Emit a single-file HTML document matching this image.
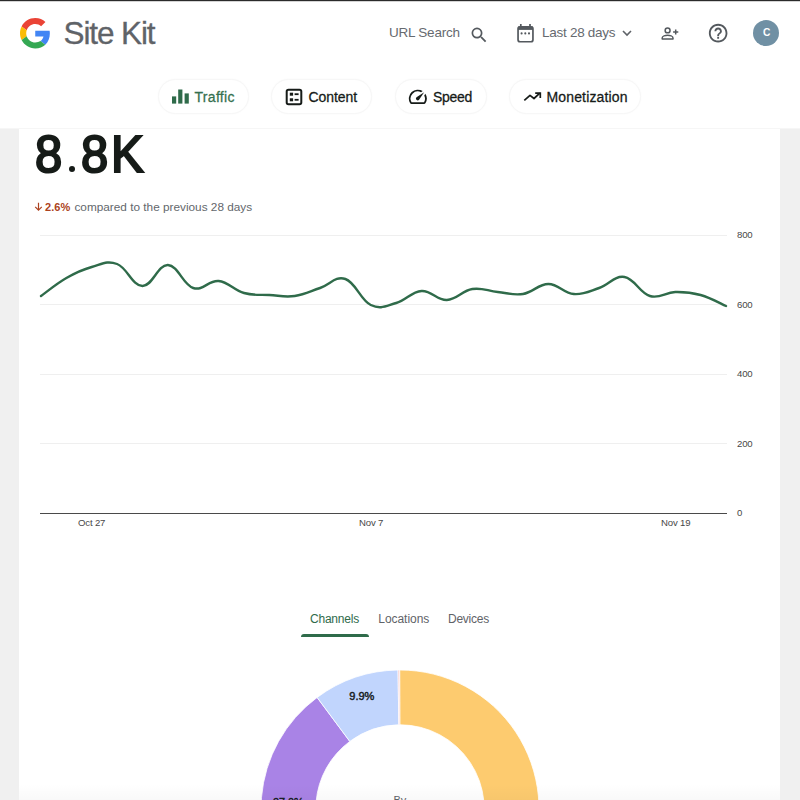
<!DOCTYPE html>
<html><head><meta charset="utf-8">
<style>
*{box-sizing:border-box;margin:0;padding:0}
html,body{width:800px;height:800px;overflow:hidden;background:#f0f0f0;font-family:"Liberation Sans",sans-serif;}
body{position:relative}
.abs{position:absolute;white-space:nowrap;line-height:1}
#topbar{position:absolute;left:0;top:0;width:800px;height:2px;background:linear-gradient(#2b2b2b 0,#2b2b2b 50%,#d4d4d4 50%,#d4d4d4 100%)}
#header{position:absolute;left:0;top:0;width:800px;height:129px;background:#fff;border-bottom:1px solid #f6f6f6}
#card{position:absolute;left:19px;top:129px;width:761px;height:700px;background:#fff}
.pill{position:absolute;top:79px;height:35px;border-radius:18px;background:#fff;border:1px solid #f7f7f7;box-shadow:0 0 2px rgba(0,0,0,0.03)}
.ptxt{position:absolute;white-space:nowrap;line-height:1;font-size:14px;color:#161b18;top:90px;-webkit-text-stroke:0.27px currentColor}
.big{top:128.5px;font-size:51.5px;color:#161b18;-webkit-text-stroke:2.2px #161b18;transform-origin:0 0;transform:scaleX(0.95)}
.hl{position:absolute;left:40px;width:687px;height:1px;background:#efefef}
.yl{position:absolute;left:737px;font-size:9.6px;letter-spacing:-0.2px;margin-top:-0.3px;color:#484848;line-height:1;white-space:nowrap}
.xl{position:absolute;top:517.6px;font-size:9.6px;letter-spacing:-0.17px;color:#484848;line-height:1;white-space:nowrap}
.tab{position:absolute;top:613px;font-size:12px;color:#5f6368;line-height:1;white-space:nowrap}
</style></head><body>
<div id="header"></div>
<div id="topbar"></div>
<div id="card"></div>

<!-- Google G -->
<svg class="abs" style="left:19.5px;top:18px" width="30.5" height="30.5" viewBox="0 0 48 48">
<path fill="#EA4335" d="M24 9.5c3.54 0 6.71 1.22 9.21 3.6l6.85-6.85C35.9 2.38 30.47 0 24 0 14.62 0 6.51 5.38 2.56 13.22l7.98 6.19C12.43 13.72 17.74 9.5 24 9.5z"/>
<path fill="#4285F4" d="M46.98 24.55c0-1.57-.15-3.09-.38-4.55H24v9.02h12.94c-.58 2.96-2.26 5.48-4.78 7.18l7.73 6c4.51-4.18 7.09-10.36 7.09-17.65z"/>
<path fill="#FBBC05" d="M10.53 28.59c-.48-1.45-.76-2.99-.76-4.59s.27-3.14.76-4.59l-7.98-6.19C.92 16.46 0 20.12 0 24c0 3.88.92 7.54 2.56 10.78l7.97-6.19z"/>
<path fill="#34A853" d="M24 48c6.48 0 11.93-2.13 15.89-5.81l-7.73-6c-2.15 1.45-4.92 2.3-8.16 2.3-6.26 0-11.57-4.22-13.47-9.91l-7.98 6.19C6.51 42.62 14.62 48 24 48z"/>
</svg>
<div class="abs" id="sitekit" style="left:63.5px;top:17.5px;font-size:31.5px;color:#5f6368;letter-spacing:-1.1px;-webkit-text-stroke:0.3px #5f6368">Site Kit</div>

<div class="abs" id="urlsearch" style="left:389px;top:26px;font-size:13.5px;letter-spacing:-0.23px;color:#666a6f">URL Search</div>
<svg class="abs" style="left:468.97px;top:24.97px" width="20.23" height="20.23" viewBox="0 0 24 24"><path fill="#54595e" d="M15.5 14h-.79l-.28-.27A6.471 6.471 0 0 0 16 9.5 6.5 6.5 0 1 0 9.5 16c1.61 0 3.09-.59 4.23-1.57l.27.28v.79l5 4.99L20.49 19l-4.99-5zm-6 0C7.01 14 5 11.990 5 9.5S7.01 5 9.5 5 14 7.01 14 9.5 11.99 14 9.500 14z"/></svg>

<svg class="abs" style="left:516px;top:23px" width="20" height="22" viewBox="0 0 20 22"><rect x="2.050" y="3.750" width="14.900" height="15" rx="2" fill="none" stroke="#54595e" stroke-width="1.700"/><rect x="2" y="3.500" width="15" height="3.400" fill="#54595e"/><path d="M4.800 0.900v3M14 0.900v3" stroke="#54595e" stroke-width="1.700"/><circle cx="5.600" cy="10.400" r="1.050" fill="#54595e"/><circle cx="9.300" cy="10.400" r="1.050" fill="#54595e"/><circle cx="13" cy="10.400" r="1.050" fill="#54595e"/></svg>
<div class="abs" id="last28" style="left:542px;top:26px;font-size:13.5px;letter-spacing:-0.27px;color:#666a6f">Last 28 days</div>
<svg class="abs" style="left:621px;top:28px" width="12" height="10" viewBox="0 0 12 10"><path d="M2 3l4 4 4-4" fill="none" stroke="#5f6368" stroke-width="1.6"/></svg>

<!-- person add -->
<svg class="abs" style="left:660px;top:23px" width="22" height="20" viewBox="0 0 22 20"><circle cx="7.6" cy="7.4" r="2.45" fill="none" stroke="#54595e" stroke-width="1.5"/><path d="M2.2 16.1v-1.1c0-1.8 3.2-2.7 5.4-2.7s5.4 .9 5.400 2.700v1.1z" fill="none" stroke="#54595e" stroke-width="1.5" stroke-linejoin="round"/><path d="M15.7 6.400v5.200M13.100 9h5.200" stroke="#54595e" stroke-width="1.5"/></svg>
<!-- help -->
<svg class="abs" style="left:707.1px;top:22.24px" width="22.3" height="22.3" viewBox="0 0 24 24"><path fill="#54595e" d="M11 18h2v-2h-2v2zm1-16C6.48 2 2 6.48 2 12s4.48 10 10 10 10-4.48 10-10S17.52 2 12 2zm0 18c-4.41 0-8-3.59-8-8s3.59-8 8-8 8 3.59 8 8-3.59 8-8 8zm0-14c-2.21 0-4 1.79-4 4h2c0-1.1.9-2 2-2s2 .9 2 2c0 2-3 1.750-3 5h2c0-2.25 3-2.500 3-5 0-2.21-1.79-4-4-4z"/></svg>
<!-- avatar -->
<div class="abs" style="left:753.3px;top:20.300px;width:26.200px;height:26.200px;border-radius:13.100px;background:#7090a4"></div>
<div class="abs" id="avc" style="left:762.900px;top:28.300px;font-size:10.200px;font-weight:bold;color:#fff">C</div>

<!-- pills -->
<div class="pill" style="left:158px;width:91px"></div>
<div class="pill" style="left:271px;width:101px"></div>
<div class="pill" style="left:395px;width:92px"></div>
<div class="pill" style="left:509px;width:132px"></div>

<svg class="abs" style="left:170px;top:86px" width="22" height="20" viewBox="170 86 22 20"><rect x="172" y="96.400" width="4.200" height="7.200" fill="#2f6b4a"/><rect x="178.200" y="89.500" width="4.200" height="14.100" fill="#2f6b4a"/><rect x="184.600" y="93.400" width="4.200" height="10.200" fill="#2f6b4a"/></svg>
<div class="ptxt" id="t1" style="left:194.500px;color:#35704f;letter-spacing:0.3px">Traffic</div>

<svg class="abs" style="left:285.2px;top:87.700px" width="18" height="18" viewBox="0 0 18 18"><rect x="1.700" y="1.700" width="14.600" height="14.600" rx="1.800" fill="none" stroke="#161b18" stroke-width="2"/><rect x="4.800" y="4.700" width="3.300" height="3" fill="#161b18"/><rect x="9.600" y="5.300" width="4" height="1.800" fill="#161b18"/><rect x="4.800" y="10.300" width="3.300" height="3" fill="#161b18"/><rect x="9.600" y="10.900" width="4" height="1.800" fill="#161b18"/></svg>
<div class="ptxt" id="t2" style="left:308.500px;letter-spacing:-0.05px">Content</div>

<svg class="abs" style="left:407.2px;top:85.9px" width="21.6" height="21.6" viewBox="0 0 24 24"><path fill="#161b18" d="M20.38 8.57l-1.23 1.85a8 8 0 0 1-.22 7.58H5.07A8 8 0 0 1 15.58 6.85l1.85-1.23A10 10 0 0 0 3.35 19a2 2 0 0 0 1.72 1h13.85a2 2 0 0 0 1.74-1 10 10 0 0 0-.27-10.440zm-9.79 6.840a2 2 0 0 0 2.830 0l5.660-8.490-8.490 5.660a2 2 0 0 0 0 2.830z"/></svg>
<div class="ptxt" id="t3" style="left:433px;letter-spacing:-0.3px">Speed</div>

<svg class="abs" style="left:520px;top:88px" width="24" height="18" viewBox="520 88 24 18"><path d="M524.300 100.400l5.700-5.100 4 3.200 5.800-5.300" fill="none" stroke="#161b18" stroke-width="1.700" stroke-linejoin="round"/><path d="M535.200 93.100h5.100v4.900" fill="none" stroke="#161b18" stroke-width="1.700"/></svg>
<div class="ptxt" id="t4" style="left:546.500px;letter-spacing:0.15px">Monetization</div>

<!-- big number -->
<div class="abs big" id="b1" style="left:35.2px">8</div><div class="abs" id="b2" style="left:68.5px;top:166.2px;width:6px;height:6px;border-radius:3px;background:#161b18"></div><div class="abs big" id="b3" style="left:80.7px">8</div><div class="abs big" id="b4" style="left:110.5px">K</div>
<svg class="abs" style="left:33px;top:201px" width="12" height="12" viewBox="33 201 12 12"><path d="M38.500 202.700v7.200M35.200 206.800l3.300 3.300 3.300-3.300" fill="none" stroke="#ac4220" stroke-width="1.200"/></svg>
<div class="abs" id="cmp" style="left:45px;top:201.800px;font-size:11.800px;color:#63676c"><b style="color:#ac4220;font-size:11px;letter-spacing:0.1px;margin-right:0.700px">2.6%</b> compared to the previous 28 days</div>

<!-- chart -->
<div class="hl" style="top:235px"></div>
<div class="hl" style="top:304px"></div>
<div class="hl" style="top:374px"></div>
<div class="hl" style="top:443px"></div>
<div class="hl" style="top:513px;height:1px;background:#4a4a4a"></div>
<div class="yl" style="top:230.4px">800</div>
<div class="yl" style="top:300.7px">600</div>
<div class="yl" style="top:369px">400</div>
<div class="yl" style="top:439.600px">200</div>
<div class="yl" style="top:508px">0</div>
<div class="xl" id="x1" style="left:78px">Oct 27</div>
<div class="xl" id="x2" style="left:359px">Nov 7</div>
<div class="xl" id="x3" style="left:661px">Nov 19</div>
<svg class="abs" style="left:0;top:0" width="800" height="600"><path d="M41.0,296.0 C46.1,292.4 56.2,283.8 66.4,278.0 C76.5,272.2 81.6,269.8 91.7,267.0 C101.9,264.2 107.0,260.2 117.1,264.0 C127.3,267.8 132.3,285.8 142.5,286.0 C152.6,286.2 157.7,264.6 167.9,265.0 C178.0,265.4 183.1,284.8 193.2,288.0 C203.4,291.2 208.4,280.0 218.6,281.0 C228.7,282.0 233.8,290.2 244.0,293.0 C254.1,295.8 259.2,294.4 269.3,295.0 C279.5,295.6 284.6,297.4 294.7,296.0 C304.9,294.6 309.9,291.4 320.1,288.0 C330.2,284.6 335.3,275.6 345.4,279.0 C355.6,282.4 360.7,300.2 370.8,305.0 C381.0,309.8 386.0,305.8 396.2,303.0 C406.3,300.2 411.4,291.6 421.6,291.0 C431.7,290.4 436.8,300.4 446.9,300.0 C457.1,299.6 462.1,290.6 472.3,289.0 C482.4,287.4 487.5,291.0 497.7,292.0 C507.8,293.0 512.9,295.6 523.0,294.0 C533.2,292.4 538.3,284.0 548.4,284.0 C558.6,284.0 563.6,293.2 573.8,294.0 C583.9,294.8 589.0,291.4 599.1,288.0 C609.3,284.6 614.4,275.4 624.5,277.0 C634.7,278.6 639.7,293.0 649.9,296.0 C660.0,299.0 665.1,292.2 675.3,292.0 C685.4,291.8 690.5,292.2 700.6,295.0 C710.8,297.8 720.9,303.8 726.0,306.0" fill="none" stroke="#2f6b4a" stroke-width="2.4" stroke-linecap="round" stroke-linejoin="round"/></svg>

<!-- tabs -->
<div class="tab" id="tb1" style="left:310px;color:#2f6b4a;letter-spacing:-0.22px">Channels</div>
<div class="tab" id="tb2" style="left:378.300px;letter-spacing:-0.05px">Locations</div>
<div class="tab" id="tb3" style="left:448px;letter-spacing:-0.25px">Devices</div>
<div class="abs" style="left:301px;top:634px;width:67.5px;height:3px;background:#2f6b4a;border-radius:3px 3px 0 0"></div>

<!-- donut -->
<svg class="abs" style="left:240px;top:660px" width="320" height="140" viewBox="240 660 320 140">
<g id="donut"></g>
<path d="M399.64,670.00 A139,139 0 1 1 300.01,905.56 L339.43,867.49 A84.2,84.2 0 1 0 399.78,724.80 Z" fill="#fdcb6f" stroke="#fff" stroke-width="0.8"/><path d="M300.01,905.56 A139,139 0 0 1 262.22,827.38 L316.54,820.14 A84.2,84.2 0 0 0 339.43,867.49 Z" fill="#77c4d1" stroke="#fff" stroke-width="0.8"/><path d="M299.68,905.21 A139,139 0 0 1 317.12,697.41 L349.80,741.40 A84.2,84.2 0 0 0 339.23,867.28 Z" fill="#a983e6" stroke="#fff" stroke-width="0.8"/><path d="M317.12,697.41 A139,139 0 0 1 398.06,670.01 L398.82,724.81 A84.2,84.2 0 0 0 349.80,741.40 Z" fill="#c1d5fd" stroke="#fff" stroke-width="0.8"/><path d="M398.06,670.01 A139,139 0 0 1 399.64,670.00 L399.78,724.80 A84.2,84.2 0 0 0 398.82,724.81 Z" fill="#f6b9b9" stroke="#fff" stroke-width="0.8"/>
</svg>
<div class="abs" id="p99" style="left:349.300px;top:691.300px;font-size:11px;color:#171c22;-webkit-text-stroke:0.450px #171c22">9.9%</div>
<div class="abs" id="p27" style="left:273px;top:797.300px;font-size:10.800px;color:#171c22;-webkit-text-stroke:0.450px #171c22">27.0%</div>
<div class="abs" id="by" style="left:393.500px;top:795px;font-size:11px;color:#5f6368">By</div>
<div class="abs" style="left:19px;top:784px;width:761px;height:16px;background:linear-gradient(rgba(0,0,0,0),rgba(0,0,0,0.022))"></div>
</body></html>
